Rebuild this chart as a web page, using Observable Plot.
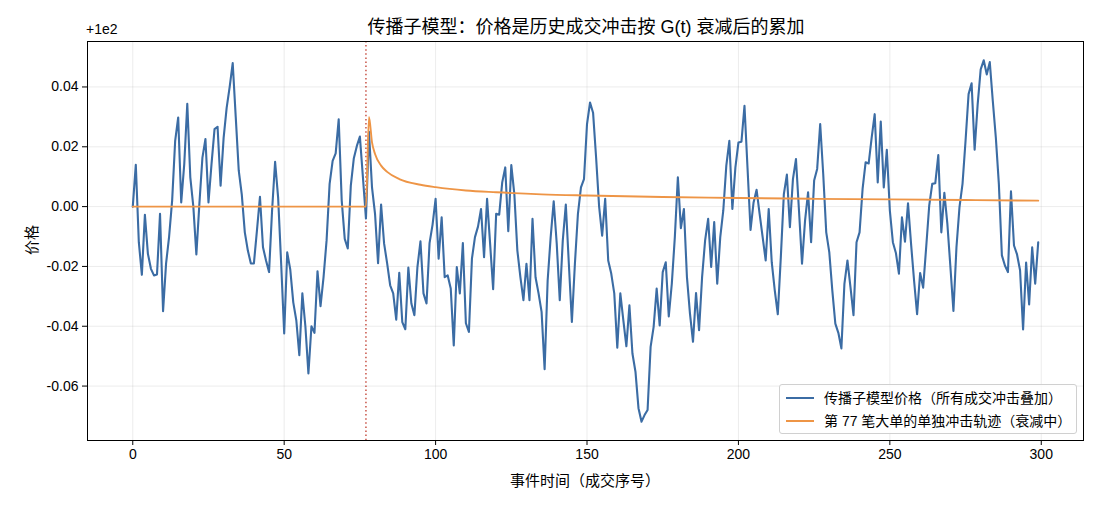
<!DOCTYPE html>
<html><head><meta charset="utf-8">
<script src="https://cdn.jsdelivr.net/npm/d3@7"></script>
<script src="https://cdn.jsdelivr.net/npm/@observablehq/plot@0.6"></script>
<style>
body{margin:0;background:#fff;font-family:"Liberation Sans","Noto Sans CJK SC",sans-serif;}
#wrap{position:relative;width:1100px;height:505px;overflow:hidden;}
.ov{position:absolute;white-space:nowrap;color:#000;}
#title{left:586px;top:12px;transform:translateX(-50%);font-size:18px;}
#offset{left:86px;top:21px;font-size:14px;}
#xlabel{left:585px;top:469px;transform:translateX(-50%);font-size:15px;}
#ylabel{left:30px;top:240px;transform:translate(-50%,-50%) rotate(-90deg);font-size:15px;}
#legend{left:779px;top:384px;width:298px;height:50px;box-sizing:border-box;border:1px solid #d0d0d0;border-radius:3px;background:rgba(255,255,255,0.85);font-size:14px;}
.row{position:absolute;left:6px;height:20px;}
.sw{position:absolute;left:0;top:9px;width:28px;height:2px;}
.lt{position:absolute;left:38px;top:0;line-height:20px;}
</style></head>
<body><div id="wrap"></div>
<script>
// price offsets from 1e2, event index 0..299
const priceOffset = [
0,0.014,-0.0119,-0.0228,-0.0027,-0.0158,-0.0208,-0.023,-0.0227,-0.0024,
-0.035,-0.019,-0.010,0.002,0.022,0.0298,0.0014,0.0142,0.0344,0.0098,
0.0,-0.016,0.001,0.0164,0.0226,0.0014,0.0142,0.0259,0.0267,0.007,
0.023,0.033,0.040,0.048,0.030,0.012,0.004,-0.0086,-0.0147,-0.019,
-0.019,-0.008,0.0033,-0.0136,-0.018,-0.0219,-0.0013,0.015,0.003,-0.019,
-0.0424,-0.0153,-0.021,-0.032,-0.038,-0.0497,-0.029,-0.040,-0.0558,-0.040,
-0.0422,-0.0216,-0.0333,-0.0236,-0.0113,0.0076,0.0153,0.0178,0.0292,0.002,
-0.0108,-0.014,0.007,0.0162,0.0203,0.0234,0.0098,-0.004,0.025,0.0064,
-0.0024,-0.0189,0.0007,-0.0124,-0.019,-0.0263,-0.029,-0.0378,-0.0221,-0.0386,
-0.041,-0.0204,-0.0324,-0.0363,-0.0202,-0.0116,-0.029,-0.0324,-0.0122,-0.006,
0.0026,-0.0174,-0.0036,-0.0236,-0.023,-0.0274,-0.0464,-0.0202,-0.029,-0.0122,
-0.039,-0.0419,-0.0174,-0.0102,-0.0067,-0.0008,-0.0169,0.0026,-0.0124,-0.0276,
-0.0024,-0.0027,0.0081,0.0131,-0.0082,0.0139,0.0042,-0.0147,-0.0236,-0.0313,
-0.0191,-0.0313,-0.0041,-0.0236,-0.029,-0.0352,-0.0544,-0.0247,-0.0102,0.0018,
-0.0124,-0.0313,-0.0113,0.0007,-0.0191,-0.0386,-0.0191,-0.0024,0.0064,0.0092,
0.0276,0.0348,0.0314,0.0164,0.0,-0.0097,0.0026,-0.018,-0.0224,-0.029,
-0.0472,-0.029,-0.038,-0.0467,-0.033,-0.0491,-0.0552,-0.0674,-0.0719,-0.0697,
-0.068,-0.0469,-0.0402,-0.0274,-0.0397,-0.0219,-0.0186,-0.0367,-0.0258,-0.0102,
0.0098,-0.0072,-0.0008,-0.0236,-0.0358,-0.0452,-0.0289,-0.0413,-0.0236,-0.0113,
-0.0041,-0.0202,-0.0052,-0.0258,-0.0102,-0.0013,0.0137,0.022,-0.0008,0.0131,
0.0214,0.0217,0.0337,0.013,-0.0078,0.0014,0.0056,-0.0024,-0.0102,-0.018,
-0.0008,-0.0186,-0.028,-0.036,-0.0169,0.0042,0.0107,-0.0069,0.0092,0.0159,
-0.0013,-0.0191,-0.0047,0.0048,-0.0119,0.0087,0.0126,0.0276,0.0109,-0.0086,
-0.0152,-0.028,-0.0391,-0.0422,-0.0474,-0.0258,-0.018,-0.0269,-0.0363,-0.0119,
-0.0086,0.0059,0.0148,0.0144,0.0231,0.0309,0.0081,0.0284,0.0064,0.019,
-0.0013,-0.0119,-0.0155,-0.0224,-0.0036,-0.0117,0.0011,-0.0124,-0.0247,-0.036,
-0.0222,-0.0271,-0.0136,0.0003,0.0076,0.0078,0.0172,-0.0086,0.0046,-0.0058,
-0.0202,-0.0349,-0.0136,-0.0002,0.0076,0.022,0.0376,0.0412,0.019,0.0342,
0.0459,0.0489,0.0442,0.0483,0.0353,0.0231,0.0076,-0.0163,-0.0197,-0.0219,
0.0051,-0.013,-0.016,-0.0213,-0.0411,-0.0187,-0.0327,-0.0136,-0.0258,-0.0119
];
// single large order (event 77) impact trajectory, read at knots
const impactIndex = [0,77,78,79,80,82,84,88,95,100,110,120,135,150,175,200,225,250,275,299];
const impactValue = [0,0,0.030,0.0215,0.0176,0.0137,0.0116,0.0092,0.0073,0.0065,0.0054,0.0048,0.0041,0.0037,0.0032,0.0029,0.0026,0.0024,0.0022,0.0020];
const bigOrderIndex = [77];
const xTicks = [0,50,100,150,200,250,300];
const yTicks = [-0.06,-0.04,-0.02,0.00,0.02,0.04];

const priceData = priceOffset.map((v,i)=>({t:i, v}));
const impactData = impactIndex.map((t,k)=>({t, v:impactValue[k]}));

const chart = Plot.plot({
  width:1100, height:505,
  marginTop:41, marginBottom:65, marginLeft:87, marginRight:17,
  style:{fontFamily:'"Liberation Sans","Noto Sans CJK SC",sans-serif', fontSize:"14px", background:"#fff", color:"#000"},
  x:{domain:[-14.95,313.95]},
  y:{domain:[-0.0782,0.0552]},
  marks:[
    Plot.gridX(xTicks,{stroke:"#b0b0b0", strokeOpacity:0.3, strokeWidth:0.8}),
    Plot.gridY(yTicks,{stroke:"#b0b0b0", strokeOpacity:0.3, strokeWidth:0.8}),
    Plot.ruleX(bigOrderIndex,{stroke:"#c0392b", strokeWidth:1.3, strokeDasharray:"1.5,2.6"}),
    Plot.line(priceData,{x:"t", y:"v", stroke:"#3b6ca4", strokeWidth:2.1}),
    Plot.line(impactData,{x:"t", y:"v", stroke:"#ee9546", strokeWidth:1.9, curve:"monotone-x"}),
    Plot.frame({stroke:"#000", strokeWidth:1}),
    Plot.axisX(xTicks,{label:null, tickSize:5, tickPadding:4, fontSize:14}),
    Plot.axisY(yTicks,{label:null, tickSize:5, tickPadding:4, fontSize:14, tickFormat:d=>d.toFixed(2)})
  ]
});
const wrap = document.getElementById("wrap");
wrap.appendChild(chart);
wrap.insertAdjacentHTML("beforeend", `
<div class="ov" id="title">传播子模型：价格是历史成交冲击按 G(t) 衰减后的累加</div>
<div class="ov" id="offset">+1e2</div>
<div class="ov" id="xlabel">事件时间（成交序号）</div>
<div class="ov" id="ylabel">价格</div>
<div class="ov" id="legend">
  <div class="row" style="top:3px"><div class="sw" style="background:#3b6ca4"></div><div class="lt">传播子模型价格（所有成交冲击叠加）</div></div>
  <div class="row" style="top:26px"><div class="sw" style="background:#ee9546"></div><div class="lt">第 77 笔大单的单独冲击轨迹（衰减中）</div></div>
</div>`);
</script></body></html>
